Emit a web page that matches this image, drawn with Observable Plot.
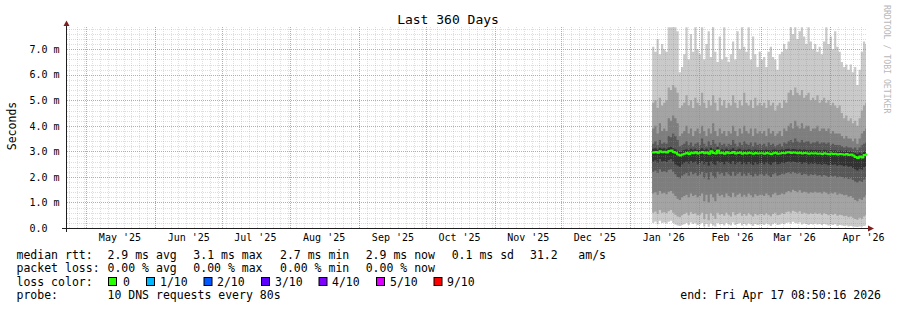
<!DOCTYPE html>
<html><head><meta charset="utf-8">
<script src="https://cdn.jsdelivr.net/npm/d3@7"></script>
<script src="https://cdn.jsdelivr.net/npm/@observablehq/plot@0.6"></script>
<style>body{margin:0;background:#fff}</style>
</head><body><div id="chart"></div>
<script>
// ---- data (milliseconds) ----
const endTime = new Date(Date.UTC(2026, 3, 17, 8, 50, 16));
const startTime = new Date(+endTime - 360 * 864e5);
const firstDay = new Date(Date.UTC(2026, 0, 11));

const monthStarts = ["2025-05-01","2025-06-01","2025-07-01","2025-08-01","2025-09-01","2025-10-01","2025-11-01","2025-12-01","2026-01-01","2026-02-01","2026-03-01","2026-04-01"];
const monthLabels = ["May '25","Jun '25","Jul '25","Aug '25","Sep '25","Oct '25","Nov '25","Dec '25","Jan '26","Feb '26","Mar '26","Apr '26"];
const yTicks = [0, 1, 2, 3, 4, 5, 6, 7];
const yTickLabels = ["0.0", "1.0 m", "2.0 m", "3.0 m", "4.0 m", "5.0 m", "6.0 m", "7.0 m"];

const p10 = [7.1,6.9,7.4,6.8,7.2,7.0,6.9,
 7.86,7.86,7.86,7.86,7.7,
 6.1,6.3,6.8,7.86,6.6,7.6,6.9,7.86,7.0,
 6.8,7.86,6.6,7.2,7.7,6.7,7.86,6.9,6.5,7.5,
 6.6,7.86,6.7,6.5,6.8,7.3,6.6,7.7,7.0,7.86,
 7.1,6.9,7.86,6.6,7.5,6.8,6.3,6.9,
 6.6,6.7,6.3,6.9,7.1,6.7,6.6,6.2,6.8,6.9,7.2,7.0,
 7.3,7.86,7.6,7.86,7.4,7.7,7.86,7.5,7.2,7.86,7.3,7.0,
 7.2,6.9,7.1,6.8,7.3,7.86,7.2,7.5,7.0,7.7,7.1,6.9,
 6.5,6.3,6.4,6.2,6.4,6.1,6.3,5.6,6.2,
 6.9,7.3,7.2];
const p9 = [4.9,5.0,4.7,5.1,4.8,4.9,5.0,
 5.5,5.4,5.6,5.5,5.3,
 4.7,4.8,4.9,5.2,4.8,5.0,4.7,5.1,4.9,
 4.8,5.3,4.9,4.7,5.0,4.8,5.2,4.9,4.6,5.1,
 4.8,5.0,4.7,4.9,4.8,5.2,4.9,4.7,5.0,4.8,
 5.3,4.9,4.8,5.0,4.7,5.1,4.8,4.9,
 4.8,4.9,4.7,5.0,4.8,4.9,4.6,4.8,4.9,4.7,5.0,4.9,
 5.3,5.4,5.2,5.5,5.3,5.2,5.4,5.1,5.2,5.3,5.0,5.1,
 5.0,5.2,4.9,5.0,5.1,4.9,5.0,4.8,4.9,4.8,4.7,4.8,
 4.5,4.3,4.4,4.2,4.3,4.1,4.2,4.0,4.3,
 4.6,4.8,4.9];
const p8 = [3.9,4.0,3.7,4.1,3.8,3.9,3.8,
 4.3,4.2,4.4,4.3,4.1,
 3.6,3.7,3.8,4.0,3.7,3.9,3.6,3.8,3.9,
 3.7,4.0,3.8,3.6,3.9,3.7,4.1,3.8,3.6,3.9,
 3.7,3.8,3.6,3.8,3.7,4.0,3.8,3.6,3.9,3.7,
 4.0,3.8,3.7,3.9,3.6,3.9,3.7,3.8,
 3.7,3.8,3.6,3.9,3.7,3.8,3.6,3.7,3.8,3.6,3.9,3.8,
 4.0,4.1,3.9,4.2,4.0,3.9,4.1,3.9,4.0,4.0,3.8,3.9,
 3.9,4.0,3.8,3.9,3.9,3.8,3.9,3.7,3.8,3.7,3.7,3.7,
 3.6,3.5,3.6,3.5,3.5,3.4,3.5,3.3,3.5,
 3.7,3.8,3.9];
const p7 = [3.3,3.4,3.25,3.45,3.3,3.35,3.3,
 3.6,3.55,3.7,3.6,3.45,
 3.2,3.25,3.3,3.4,3.25,3.35,3.2,3.3,3.35,
 3.25,3.5,3.3,3.2,3.4,3.25,3.45,3.3,3.2,3.35,
 3.25,3.3,3.2,3.3,3.25,3.45,3.3,3.2,3.35,3.25,
 3.4,3.3,3.25,3.35,3.2,3.35,3.25,3.3,
 3.25,3.3,3.2,3.35,3.25,3.3,3.2,3.25,3.3,3.2,3.35,3.3,
 3.4,3.45,3.35,3.5,3.4,3.35,3.45,3.35,3.4,3.4,3.3,3.35,
 3.35,3.4,3.3,3.35,3.35,3.3,3.35,3.25,3.3,3.25,3.25,3.25,
 3.2,3.15,3.2,3.15,3.15,3.1,3.15,3.05,3.15,
 3.25,3.3,3.35];
const p6 = [3.1,3.12,3.08,3.14,3.1,3.12,3.09,3.15,3.18,3.12,3.08,
 3.02,2.98,3.02,3.05,3.08,3.04,3.1,3.06,3.1,3.05,
 3.08,3.12,3.06,3.1,3.04,3.14,3.08,3.05,3.16,3.06,
 3.08,3.04,3.1,3.06,3.07,3.12,3.05,3.07,3.1,3.04,
 3.07,3.05,3.08,3.06,3.04,3.07,3.05,3.06,
 3.06,3.04,3.07,3.05,3.03,3.06,3.08,3.04,3.05,3.07,3.06,3.09,
 3.1,3.07,3.09,3.08,3.06,3.08,3.05,3.07,3.06,3.04,3.06,3.05,
 3.06,3.04,3.05,3.03,3.06,3.04,3.02,3.05,3.03,3.04,3.01,3.03,
 3.02,3.0,3.03,2.99,3.01,2.97,2.94,2.9,2.96,2.92,3.0,3.03];
const median = [2.98,3.0,2.97,3.02,2.99,3.01,2.98,3.03,3.05,3.0,2.97,
 2.9,2.86,2.9,2.93,2.96,2.92,2.97,2.95,2.99,2.94,
 2.97,3.0,2.95,2.98,2.93,3.02,2.96,2.94,3.05,2.95,
 2.97,2.93,2.99,2.95,2.96,3.0,2.94,2.96,2.98,2.93,
 2.96,2.94,2.97,2.95,2.93,2.96,2.94,2.95,
 2.95,2.93,2.96,2.94,2.92,2.95,2.97,2.93,2.94,2.96,2.95,2.98,
 2.99,2.96,2.98,2.97,2.95,2.97,2.94,2.96,2.95,2.93,2.95,2.94,
 2.95,2.93,2.94,2.92,2.95,2.93,2.91,2.94,2.92,2.93,2.9,2.92,
 2.91,2.89,2.92,2.88,2.9,2.86,2.8,2.76,2.82,2.78,2.88,2.9];
const p5 = [2.6,2.65,2.55,2.7,2.6,2.62,2.58,2.66,2.7,2.6,2.5,
 2.45,2.4,2.5,2.55,2.6,2.52,2.62,2.55,2.6,2.5,
 2.55,2.62,2.5,2.58,2.45,2.6,2.52,2.48,2.62,2.55,
 2.58,2.5,2.6,2.55,2.52,2.62,2.5,2.56,2.6,2.5,
 2.55,2.5,2.58,2.52,2.48,2.56,2.5,2.54,
 2.55,2.5,2.56,2.52,2.48,2.55,2.58,2.5,2.52,2.56,2.54,2.58,
 2.6,2.56,2.6,2.58,2.55,2.58,2.52,2.56,2.55,2.5,2.54,2.52,
 2.54,2.5,2.52,2.48,2.52,2.5,2.46,2.5,2.48,2.5,2.44,2.48,
 2.46,2.42,2.45,2.4,2.42,2.35,2.3,2.25,2.32,2.28,2.38,2.42];
const p4 = [2.2,2.25,2.15,2.3,2.2,2.22,2.18,2.28,2.3,2.2,2.1,
 2.0,1.95,2.05,2.1,2.15,2.05,2.2,2.1,2.15,2.05,
 2.1,2.2,1.95,2.15,1.9,2.18,2.05,1.95,2.2,2.1,
 2.15,2.05,2.18,2.1,2.05,2.2,2.05,2.12,2.18,2.05,
 2.12,2.05,2.15,2.08,2.02,2.12,2.05,2.1,
 2.1,2.05,2.12,2.06,2.0,2.1,2.14,2.05,2.08,2.12,2.1,2.15,
 2.18,2.12,2.2,2.15,2.12,2.16,2.08,2.12,2.1,2.05,2.1,2.08,
 2.1,2.05,2.08,2.02,2.08,2.05,2.0,2.05,2.02,2.05,1.98,2.02,
 2.0,1.95,1.98,1.92,1.95,1.88,1.82,1.78,1.85,1.8,1.9,1.95];
const p3 = [1.35,1.4,1.3,1.45,1.35,1.38,1.32,1.42,1.45,1.35,1.25,
 1.15,1.1,1.2,1.25,1.3,1.2,1.35,1.25,1.3,1.2,
 1.25,1.35,1.05,1.3,1.0,1.32,1.2,1.05,1.35,1.25,
 1.3,1.2,1.35,1.25,1.2,1.38,1.22,1.3,1.35,1.22,
 1.3,1.22,1.35,1.28,1.2,1.32,1.25,1.3,
 1.3,1.25,1.35,1.28,1.2,1.32,1.38,1.28,1.3,1.35,1.32,1.4,
 1.45,1.4,1.5,1.45,1.4,1.48,1.38,1.42,1.4,1.35,1.4,1.38,
 1.42,1.38,1.4,1.35,1.42,1.38,1.32,1.38,1.35,1.4,1.3,1.35,
 1.32,1.28,1.3,1.22,1.25,1.18,1.1,1.05,1.15,1.1,1.2,1.28];
const p2 = [0.6,0.65,0.55,0.7,0.6,0.62,0.58,0.66,0.7,0.6,0.52,
 0.45,0.42,0.5,0.55,0.6,0.5,0.62,0.55,0.58,0.5,
 0.52,0.6,0.35,0.55,0.3,0.58,0.48,0.35,0.6,0.52,
 0.55,0.48,0.6,0.52,0.45,0.62,0.5,0.55,0.6,0.48,
 0.55,0.48,0.58,0.52,0.45,0.56,0.5,0.54,
 0.55,0.5,0.58,0.52,0.46,0.55,0.6,0.5,0.52,0.58,0.55,0.62,
 0.65,0.6,0.68,0.64,0.6,0.66,0.56,0.6,0.58,0.54,0.58,0.55,
 0.6,0.55,0.58,0.52,0.58,0.55,0.5,0.55,0.52,0.56,0.48,0.52,
 0.5,0.46,0.48,0.42,0.45,0.4,0.35,0.32,0.4,0.36,0.45,0.5];
const p1 = [0.2,0.25,0.15,0.28,0.2,0.22,0.18,0.24,0.28,0.2,0.14,
 0.1,0.08,0.12,0.15,0.2,0.12,0.22,0.16,0.2,0.12,
 0.14,0.2,0.06,0.16,0.05,0.18,0.1,0.06,0.2,0.14,
 0.16,0.1,0.2,0.14,0.1,0.22,0.12,0.16,0.2,0.1,
 0.16,0.1,0.18,0.14,0.08,0.16,0.12,0.14,
 0.15,0.12,0.18,0.14,0.08,0.15,0.2,0.12,0.14,0.18,0.15,0.2,
 0.22,0.18,0.24,0.2,0.18,0.22,0.14,0.18,0.16,0.12,0.16,0.14,
 0.18,0.14,0.16,0.12,0.16,0.14,0.1,0.14,0.12,0.15,0.08,0.12,
 0.1,0.08,0.1,0.06,0.08,0.06,0.05,0.04,0.06,0.05,0.08,0.1];

const lossColors = ["#26ff00","#00b8ff","#0059ff","#5e00ff","#7e00ff","#dd00ff","#ff0000"];
const lossLabels = ["0","1/10","2/10","3/10","4/10","5/10","9/10"];

// ---- table ----
const cols = {p1, p2, p3, p4, p5, p6, p7, p8, p9, p10, median};
const rows = p1.map((_, i) => {
  const r = {t: d3.utcDay.offset(firstDay, i)};
  for (const k in cols) r[k] = cols[k][i];
  return r;
});
rows.push({...rows[rows.length - 1], t: endTime});

const bands = [
  ["p1", "p10", "#cacaca"],
  ["p2", "p9", "#a4a4a4"],
  ["p3", "p8", "#7e7e7e"],
  ["p4", "p7", "#585858"],
  ["p5", "p6", "#323232"]
];

const monthDates = monthStarts.map(s => new Date(s + "T00:00:00Z"));
const labelDates = monthDates.map(d => d3.utcDay.offset(d, 15));
const minorY = d3.range(1, 40).map(k => k / 5).filter(v => Math.abs(v - Math.round(v)) > 1e-6);
const anchor = new Date(Date.UTC(2025, 5, 1));
const stepMs = 3.535 * 864e5;
const minorX = d3.range(-12, 95).map(k => new Date(+anchor + k * stepMs)).filter(d => d > startTime && d < endTime);
const crisp = {shapeRendering: "crispEdges", strokeDasharray: "1,1"};

const plot = Plot.plot({
  width: 897, height: 310,
  marginLeft: 67, marginRight: 31, marginTop: 27, marginBottom: 82,
  x: {type: "utc", domain: [startTime, endTime], axis: null},
  y: {domain: [0, 7.87], axis: null},
  style: {background: "#fff", fontFamily: "DejaVu Sans Mono", fontSize: "10px", color: "#000", overflow: "visible"},
  marks: [
    ...bands.map(([a, b, c]) => Plot.areaY(rows, {x: "t", y1: a, y2: b, fill: c, curve: "step-after"})),
    Plot.ruleY(minorY, {stroke: "#8f8f8f", strokeOpacity: 0.3, ...crisp}),
    Plot.ruleX(minorX, {stroke: "#8f8f8f", strokeOpacity: 0.28, ...crisp}),
    Plot.ruleY(yTicks.slice(1), {stroke: "#ee6666", strokeOpacity: 0.7, ...crisp}),
    Plot.ruleX(monthDates, {stroke: "#ee6666", strokeOpacity: 0.7, ...crisp}),
    Plot.line(rows, {x: "t", y: "median", stroke: "#26ff00", strokeWidth: 2, curve: "step-after"}),
    Plot.text(labelDates, {x: d => d, text: (d, i) => monthLabels[i], frameAnchor: "bottom", dy: 9.5, lineAnchor: "middle", fontSize: 10, fill: "#000"}),
    Plot.text(yTicks, {y: d => d, text: (d, i) => yTickLabels[i], frameAnchor: "left", textAnchor: "start", dx: -38, fontSize: 10, fill: "#000"})
  ]
});

document.getElementById("chart").appendChild(plot);
const svg = d3.select(plot);
const mono = "DejaVu Sans Mono";
const g = svg.append("g").attr("text-anchor", "start").attr("font-family", mono).attr("fill", "#000");

// axes
g.append("line").attr("x1", 62).attr("x2", 869).attr("y1", 228.5).attr("y2", 228.5).attr("stroke", "#1f1f1f");
g.append("line").attr("x1", 66.5).attr("x2", 66.5).attr("y1", 232).attr("y2", 25).attr("stroke", "#1f1f1f");
g.append("polygon").attr("points", "63.5,26 69.5,26 66.5,20.5").attr("fill", "#801f1f");
g.append("polygon").attr("points", "868,225.5 868,231.5 874,228.5").attr("fill", "#801f1f");

// title, y label, watermark
g.append("text").attr("x", 448).attr("y", 24).attr("text-anchor", "middle")
  .attr("font-size", 13).text("Last 360 Days");
g.append("text").attr("transform", "translate(16,126) rotate(-90)").attr("text-anchor", "middle")
  .attr("font-size", 11.5).text("Seconds");
g.append("text").attr("transform", "translate(884,5) rotate(90)").attr("text-anchor", "start")
  .attr("font-size", 8.2).attr("fill", "#b8b8b8").text("RRDTOOL / TOBI OETIKER");

// legend
const legend = [
  [16.5, 258.5, "median rtt:"], [107.5, 258.5, "2.9 ms avg"], [193.3, 258.5, "3.1 ms max"],
  [280, 258.5, "2.7 ms min"], [365.7, 258.5, "2.9 ms now"], [451.7, 258.5, "0.1 ms sd"],
  [530, 258.5, "31.2"], [578.3, 258.5, "am/s"],
  [16.5, 272, "packet loss:"], [107.5, 272, "0.00 % avg"], [193.3, 272, "0.00 % max"],
  [280, 272, "0.00 % min"], [365.7, 272, "0.00 % now"],
  [16.5, 285.5, "loss color:"],
  [16.5, 299, "probe:"], [107.5, 299, "10 DNS requests every 80s"]
];
for (const [x, y, t] of legend) {
  g.append("text").attr("x", x).attr("y", y).attr("text-anchor", "start").attr("font-size", 11.5).text(t);
}
const sqX = [108, 146, 203.5, 261, 318.5, 376, 433.5];
const lbX = [123, 160, 217, 275, 332, 390, 447];
lossColors.forEach((c, i) => {
  g.append("rect").attr("x", sqX[i] + 0.5).attr("y", 277.5).attr("width", 8).attr("height", 8)
    .attr("fill", c).attr("stroke", "#000").attr("stroke-width", 1);
  g.append("text").attr("x", lbX[i]).attr("y", 285.5).attr("text-anchor", "start").attr("font-size", 11.5).text(lossLabels[i]);
});
g.append("text").attr("x", 881).attr("y", 299).attr("text-anchor", "end")
  .attr("font-size", 11.5).text("end: Fri Apr 17 08:50:16 2026");
</script>
</body></html>
